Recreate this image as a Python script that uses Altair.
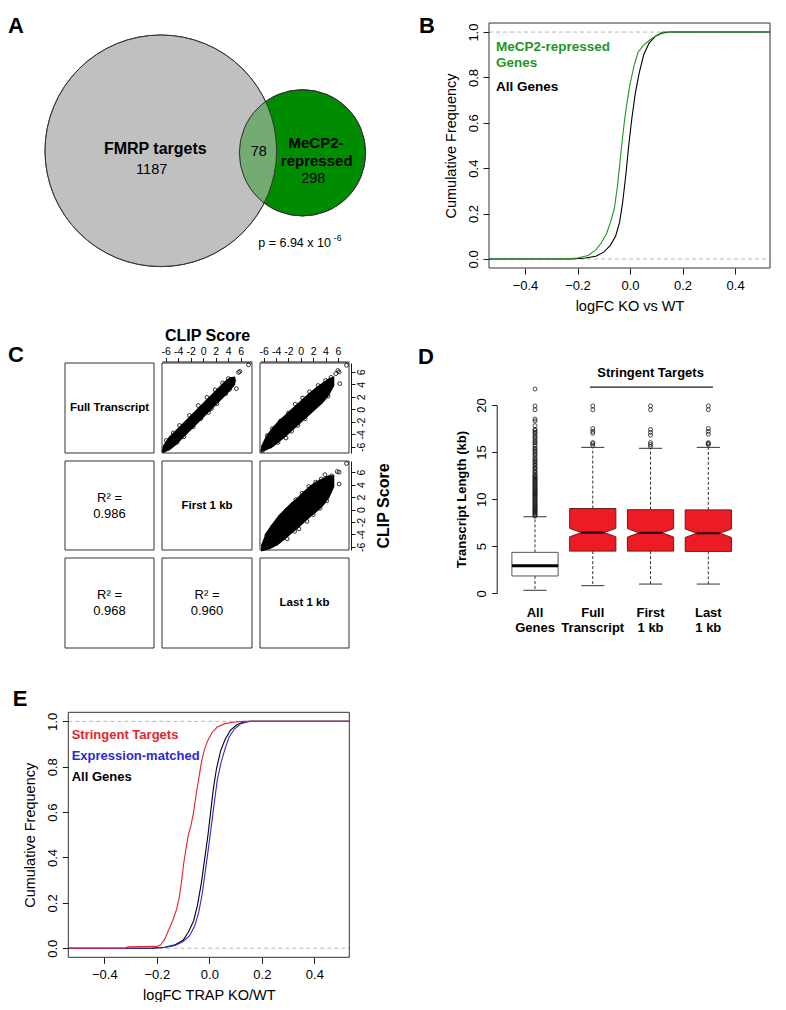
import altair as alt
import pandas as pd

# ---------------- canvas ----------------
W, H = 770, 994          # whole drawing area (page is 786 x 1010 with 8px margin)
M = 8
FONT = "Liberation Sans"
INK = "#1a1a1a"
FRAME = "#333333"
GREEN_LINE = "#1f951f"
GREEN_VENN = "#008c00"
GRAY_VENN = "#c0c0c0"
RED = "#e3262b"
BLUE = "#2a2ad0"
BOX_RED = "#ed1c24"

# ================= DATA =================
# --- A: Venn ---
venn_sets = ["FMRP targets", "MeCP2-repressed"]
venn_only = [1187, 298]
venn_shared = 78
venn_p = "p = 6.94 x 10"
venn_p_exp = "-6"

# --- B: ECDF logFC KO vs WT ---
b_all_x = [-0.537, -0.22, -0.17, -0.13, -0.10, -0.075, -0.055, -0.04, -0.028, -0.016,
           -0.005, 0.007, 0.02, 0.035, 0.052, 0.072, 0.095, 0.12, 0.15, 0.533]
b_all_f = [0, 0, 0.004, 0.012, 0.03, 0.06, 0.10, 0.16, 0.25, 0.37,
           0.50, 0.62, 0.73, 0.82, 0.90, 0.95, 0.98, 0.995, 1.0, 1.0]
b_mecp2_x = [-0.537, -0.25, -0.20, -0.16, -0.13, -0.11, -0.09, -0.075, -0.06, -0.048, -0.038,
             -0.03, -0.02, -0.01, 0.0, 0.015, 0.03, 0.05, 0.075, 0.10, 0.125, 0.533]
b_mecp2_f = [0, 0, 0.004, 0.015, 0.04, 0.07, 0.11, 0.16, 0.22, 0.32, 0.43,
             0.52, 0.62, 0.70, 0.77, 0.85, 0.91, 0.94, 0.965, 0.985, 1.0, 1.0]

# --- C: CLIP score pairs (dense band edges + visible stray points) ---
c12_band_x = [-6.4, -5.5, -4.5, -3.5, -2.5, -1.5, -0.5, 0.5, 1.5, 2.5, 3.5, 4.3, 5.0]
c12_band_lo = [-6.8, -6.5, -5.7, -4.7, -3.7, -2.7, -1.7, -0.7, 0.3, 1.3, 2.3, 3.1, 4.0]
c12_band_hi = [-6.0, -4.6, -3.6, -2.6, -1.6, -0.6, 0.4, 1.4, 2.4, 3.4, 4.4, 5.0, 5.1]
c12_pts_x = [7.25, 5.65, 5.85, 5.3, 4.9, 4.6, 4.2, 3.6, 2.2, 1.3, 0.85, -0.4, -1.6, -3.1, -4.2,
             -5.3, -6.3, -5.9, -4.8, -3.8, -2.2, -0.8, 0.6, 1.9, 3.1, 4.0]
c12_pts_y = [7.1, 5.9, 6.05, 3.3, 4.6, 4.75, 3.2, 2.5, 0.9, 0.1, -0.5, -1.5, -2.8, -4.4, -5.3,
             -5.95, -6.6, -5.0, -3.8, -2.6, -1.0, 0.6, 1.9, 3.1, 4.2, 4.9]

c13_band_x = [-6.3, -5.5, -4.5, -3.5, -2.5, -1.5, -0.5, 0.5, 1.5, 2.5, 3.5, 4.5, 5.3]
c13_band_lo = [-6.7, -6.4, -5.9, -5.1, -4.3, -3.4, -2.5, -1.6, -0.7, 0.2, 1.1, 2.3, 3.8]
c13_band_hi = [-5.9, -4.3, -3.0, -1.9, -1.0, -0.1, 0.8, 1.7, 2.6, 3.4, 4.1, 4.8, 5.1]
c13_pts_x = [7.4, 6.2, 6.0, 5.67, 6.3, 4.5, 4.4, 3.5, 2.3, 0.7, -0.5, -1.5, -2.4, -3.7, -4.9,
             -6.2, -5.4, -4.6, -3.3, -2.0, -0.9, 0.3, 1.4, 2.8, 4.0, 4.9]
c13_pts_y = [7.04, 5.97, 6.2, 5.7, 4.1, 3.04, 2.1, 1.7, 0.4, -1.5, -2.6, -3.5, -4.6, -5.3, -5.9,
             -6.6, -4.2, -3.1, -1.9, -0.6, 0.8, 1.8, 2.8, 3.8, 4.6, 5.1]

c23_band_x = [-6.3, -5.5, -4.5, -3.5, -2.5, -1.5, -0.5, 0.5, 1.5, 2.5, 3.5, 4.5, 5.3]
c23_band_lo = [-6.6, -6.4, -6.0, -5.4, -4.6, -3.7, -2.9, -2.0, -1.1, -0.3, 0.6, 1.9, 3.7]
c23_band_hi = [-5.7, -3.7, -2.3, -1.0, 0.0, 1.0, 1.8, 2.8, 3.7, 4.4, 4.9, 5.4, 5.4]
c23_pts_x = [7.4, 6.2, 5.9, 3.9, 4.7, 6.2, 1.3, -1.9, -2.3, -3.2, 4.3, 4.2, -0.3, -2.2, -4.0,
             -5.1, 3.1, 2.0, 1.0, -1.0, -4.6, -5.5, 0.2, -0.8, 2.4, 3.3, 5.0]
c23_pts_y = [7.4, 6.0, 6.1, 5.6, 4.6, 4.1, 3.7, 0.1, -0.1, -1.5, 2.8, 1.4, -3.1, -4.7, -5.5,
             -6.0, 0.2, -0.8, -1.9, -3.5, -2.8, -4.1, 2.6, 1.6, 4.4, 4.9, 5.4]

c_r2 = ["0.986", "0.968", "0.960"]

# --- D: transcript length boxplots ---
d_labels = ["All\nGenes", "Full\nTranscript", "First\n1 kb", "Last\n1 kb"]
d_wlo = [0.32, 0.81, 0.98, 0.98]
d_q1 = [1.84, 4.48, 4.48, 4.45]
d_med = [2.93, 6.45, 6.42, 6.38]
d_q3 = [4.35, 9.0, 8.88, 8.86]
d_whi = [8.13, 15.5, 15.4, 15.5]
d_notch_lo = [None, 6.0, 5.97, 5.93]
d_notch_hi = [None, 6.9, 6.87, 6.83]
d_out_all = [8.2, 8.3, 8.4, 8.5, 8.6, 8.7, 8.8, 8.9, 9.0, 9.1, 9.2, 9.3, 9.4, 9.5, 9.6, 9.7, 9.8,
             9.9, 10.0, 10.1, 10.2, 10.3, 10.4, 10.5, 10.6, 10.7, 10.8, 10.9, 11.0, 11.1, 11.2,
             11.3, 11.4, 11.5, 11.6, 11.7, 11.8, 11.9, 12.0, 12.1, 12.2, 12.3, 12.4, 12.5, 12.6,
             12.8, 12.9, 13.0, 13.2, 13.3, 13.4, 13.6, 13.7, 13.9, 14.0, 14.2, 14.3, 14.5, 14.7,
             14.8, 15.0, 15.1, 15.3, 15.4, 15.6, 15.8, 16.0, 16.1, 16.3, 16.5, 16.6, 16.8, 17.0,
             17.1, 17.3, 17.4, 17.8, 18.3, 18.5, 19.5, 19.9, 21.7]
d_out_full = [15.7, 15.9, 16.0, 17.0, 17.2, 17.5, 19.5, 19.9]
d_out_first = [15.6, 15.8, 16.0, 16.8, 17.1, 17.4, 19.5, 19.9]
d_out_last = [15.8, 15.9, 16.0, 16.9, 17.2, 17.5, 19.5, 19.9]

# --- E: ECDF logFC TRAP KO/WT ---
e_red_x = [-0.537, -0.32, -0.31, -0.2, -0.185, -0.17, -0.155, -0.14, -0.125, -0.115, -0.105,
           -0.098, -0.09, -0.08, -0.07, -0.06, -0.05, -0.04, -0.03, -0.02, -0.008, 0.01, 0.03,
           0.06, 0.09, 0.13, 0.533]
e_red_f = [0, 0, 0.006, 0.008, 0.015, 0.04, 0.08, 0.12, 0.17, 0.22, 0.30,
           0.37, 0.43, 0.50, 0.54, 0.60, 0.68, 0.75, 0.82, 0.87, 0.91, 0.95, 0.975,
           0.99, 0.996, 1.0, 1.0]
e_all_x = [-0.537, -0.22, -0.17, -0.13, -0.1, -0.08, -0.06, -0.045, -0.03, -0.017, -0.005,
           0.005, 0.015, 0.027, 0.043, 0.06, 0.08, 0.105, 0.13, 0.16, 0.533]
e_all_f = [0, 0, 0.004, 0.015, 0.035, 0.07, 0.12, 0.19, 0.29, 0.40, 0.50,
           0.60, 0.70, 0.79, 0.87, 0.92, 0.96, 0.985, 0.997, 1.0, 1.0]
e_blue_x = [-0.537, -0.22, -0.17, -0.13, -0.1, -0.075, -0.055, -0.04, -0.027, -0.013, 0.0,
            0.01, 0.02, 0.03, 0.045, 0.06, 0.075, 0.095, 0.12, 0.15, 0.533]
e_blue_f = [0, 0, 0.003, 0.012, 0.03, 0.055, 0.10, 0.16, 0.24, 0.36, 0.47,
            0.56, 0.65, 0.74, 0.82, 0.88, 0.93, 0.965, 0.99, 1.0, 1.0]

# ================= HELPERS =================
def lin(domain, rng):
    return alt.Scale(domain=domain, range=rng, nice=False, zero=False)

PXS = lin([0, 786], [-M, 786 - M])
PYS = lin([0, 1010], [-M, 1010 - M])


def PX(f):
    return alt.X(f, type="quantitative", scale=PXS, axis=None)


def PY(f):
    return alt.Y(f, type="quantitative", scale=PYS, axis=None)


def text_layer(rows, **kw):
    df = pd.DataFrame(rows, columns=["x", "y", "t"])
    base = dict(font=FONT, baseline="middle", align="center", color="black", fontSize=13)
    base.update(kw)
    return alt.Chart(df).mark_text(**base).encode(x=PX("x"), y=PY("y"), text="t")


# ================= PAGE LAYER (Venn, frames, annotations) =================
venn_n = [venn_only[0] + venn_shared, venn_only[1] + venn_shared]
R_BIG = 115.8
venn_df = pd.DataFrame({"set": venn_sets, "n": venn_n, "cx": [160.8, 302.5], "cy": [150.8, 152.8]})
SIZE = alt.Scale(type="linear", domain=[0, venn_n[0]], range=[0, (2 * R_BIG) ** 2], zero=True, nice=False)


def venn_circle(idx, **kw):
    return alt.Chart(venn_df.iloc[[idx]]).mark_point(shape="circle", opacity=1, **kw).encode(
        x=PX("cx"), y=PY("cy"),
        size=alt.Size("n", type="quantitative", scale=SIZE, legend=None))


venn_layers = [
    venn_circle(0, filled=True, fill=GRAY_VENN, color=GRAY_VENN, stroke=FRAME, strokeWidth=1),
    venn_circle(1, filled=True, fill=GREEN_VENN, color=GREEN_VENN, stroke=FRAME, strokeWidth=1),
    venn_circle(0, filled=True, fill=GRAY_VENN, color=GRAY_VENN, fillOpacity=0.6, stroke=FRAME, strokeWidth=1),
    venn_circle(1, filled=False, color=FRAME, strokeWidth=1),
]

C_COLS = [(65, 154), (162, 252), (260, 349)]
C_ROWS = [(363, 453), (461, 550), (558, 648)]
frames = pd.DataFrame([{"x0": c[0], "x1": c[1], "y0": r[0], "y1": r[1]} for r in C_ROWS for c in C_COLS])
frame_layer = alt.Chart(frames).mark_rect(filled=False, stroke=FRAME, strokeWidth=1).encode(
    x=PX("x0"), x2="x1", y=PY("y0"), y2="y1")

def ccx(i):
    return (C_COLS[i][0] + C_COLS[i][1]) / 2


def ccy(j):
    return (C_ROWS[j][0] + C_ROWS[j][1]) / 2


page = alt.layer(
    *venn_layers,
    frame_layer,
    text_layer([(16, 26, "A"), (427, 26, "B"), (16, 355, "C"), (426, 357, "D"), (20, 699, "E")],
               fontSize=22, fontWeight="bold"),
    text_layer([(155.3, 149, venn_sets[0])], fontSize=16, fontWeight="bold"),
    text_layer([(316, 142.7, "MeCP2-"), (316.7, 161, "repressed")], fontSize=15, fontWeight="bold"),
    text_layer([(151.7, 170, str(venn_only[0])), (258.7, 152.3, str(venn_shared)),
                (313.3, 179, str(venn_only[1]))], fontSize=14.5),
    text_layer([(258.3, 243.3, venn_p)], fontSize=12.5, align="left"),
    text_layer([(333.8, 237.5, venn_p_exp)], fontSize=8.5, align="left"),
    # B legend
    text_layer([(496, 46.7, "MeCP2-repressed"), (496, 63.3, "Genes")], fontSize=13.5,
               fontWeight="bold", align="left", color=GREEN_LINE),
    text_layer([(496, 86.7, "All Genes")], fontSize=13.5, fontWeight="bold", align="left"),
    # C diagonal labels and R^2
    text_layer([(ccx(0), ccy(0), "Full Transcript"), (ccx(1), ccy(1), "First 1 kb"),
                (ccx(2), ccy(2), "Last 1 kb")], fontSize=11.5, fontWeight="bold"),
    text_layer([(ccx(0), ccy(1) - 8, "R\u00b2 ="), (ccx(0), ccy(1) + 8, c_r2[0]),
                (ccx(0), ccy(2) - 8, "R\u00b2 ="), (ccx(0), ccy(2) + 8, c_r2[1]),
                (ccx(1), ccy(2) - 8, "R\u00b2 ="), (ccx(1), ccy(2) + 8, c_r2[2])], fontSize=13),
    # E legend
    text_layer([(71.7, 735, "Stringent Targets")], fontSize=13, fontWeight="bold", align="left", color=RED),
    text_layer([(71.7, 755.7, "Expression-matched")], fontSize=13, fontWeight="bold", align="left", color=BLUE),
    text_layer([(71.7, 776.7, "All Genes")], fontSize=13, fontWeight="bold", align="left"),
)


# ================= ECDF PANELS (B, E) =================
def ecdf_panel(series, x_rng, y_rng, xtitle):
    xd, yd = [-0.537, 0.533], [-0.04, 1.04]
    xs = lin(xd, [x_rng[0] - M, x_rng[1] - M])
    ys = lin(yd, [y_rng[0] - M, y_rng[1] - M])
    xa = alt.Axis(orient="bottom", offset=(y_rng[0] - M) - H, values=[-0.4, -0.2, 0, 0.2, 0.4],
                  format=".1f", tickSize=6, domain=False, grid=False, labelFontSize=13,
                  labelPadding=5, labelFlush=False, labelOverlap=False, title=xtitle,
                  titleFontSize=14.5, titleFontWeight="normal", titlePadding=7)
    ya = alt.Axis(orient="left", offset=-(x_rng[0] - M), values=[0, 0.2, 0.4, 0.6, 0.8, 1.0],
                  format=".1f", tickSize=6, domain=False, grid=False, labelAngle=270,
                  labelAlign="center", labelBaseline="bottom", labelFontSize=13, labelPadding=3,
                  labelFlush=False, labelOverlap=False, title="Cumulative Frequency",
                  titleFontSize=14.5, titleFontWeight="normal", titlePadding=9)

    def X(f):
        return alt.X(f, type="quantitative", scale=xs, axis=xa)

    def Y(f):
        return alt.Y(f, type="quantitative", scale=ys, axis=ya)

    frame_df = pd.DataFrame({"x0": [xd[0]], "x1": [xd[1]], "y0": [yd[0]], "y1": [yd[1]]})
    guide_df = pd.DataFrame({"x0": [xd[0], xd[0]], "x1": [xd[1], xd[1]], "f": [0.0, 1.0]})
    layers = [alt.Chart(guide_df).mark_rule(color="#b8b8b8", strokeDash=[4, 3], strokeWidth=1).encode(
        x=X("x0"), x2="x1", y=Y("f"))]
    for sx, sf, col in series:
        df = pd.DataFrame({"x": sx, "f": sf, "k": list(range(len(sx)))})
        layers.append(alt.Chart(df).mark_line(color=col, strokeWidth=1.1).encode(
            x=X("x"), y=Y("f"), order=alt.Order("k", type="quantitative")))
    layers.append(alt.Chart(frame_df).mark_rect(filled=False, stroke=FRAME, strokeWidth=1).encode(
        x=X("x0"), x2="x1", y=Y("y0"), y2="y1"))
    return alt.layer(*layers)


panel_b = ecdf_panel([(b_all_x, b_all_f, "black"), (b_mecp2_x, b_mecp2_f, GREEN_LINE)],
                     (489, 770), (268, 23), "logFC KO vs WT")
panel_e = ecdf_panel([(e_all_x, e_all_f, "black"), (e_blue_x, e_blue_f, BLUE), (e_red_x, e_red_f, RED)],
                     (68.3, 349.3), (957.3, 712.3), "logFC TRAP KO/WT")

# ================= C SCATTER PANELS =================
C_XDOM = [-6.6, 7.8]
C_YDOM = {0: [-7.0, 7.4], 1: [-6.5, 7.8]}
TICKS6 = [-6, -4, -2, 0, 2, 4, 6]
HYPHEN_LABEL = "datum.value < 0 ? '-' + abs(datum.value) : '' + datum.value"


def top_axis(title):
    kw = dict(orient="top", offset=-(361.5 - M), values=TICKS6, labelExpr=HYPHEN_LABEL, tickSize=4,
              domain=True, grid=False, labelFontSize=10.5, labelPadding=1.5, labelFlush=False,
              labelOverlap=False)
    if title:
        kw.update(title=title, titleFontSize=16, titleFontWeight="bold", titlePadding=3)
    else:
        kw.update(title=None)
    return alt.Axis(**kw)


def right_axis(title):
    kw = dict(orient="right", offset=(351 - M) - W, values=TICKS6, labelExpr=HYPHEN_LABEL, tickSize=4,
              domain=True, grid=False, labelAngle=270, labelAlign="center", labelBaseline="top",
              labelFontSize=10.5, labelPadding=1.5, labelFlush=False, labelOverlap=False)
    if title:
        kw.update(title=title, titleFontSize=16, titleFontWeight="bold", titleAngle=270,
                  titleBaseline="top", titlePadding=8)
    else:
        kw.update(title=None)
    return alt.Axis(**kw)


def scatter_panel(bx, blo, bhi, px, py, col, row, xaxis, yaxis):
    xs = lin(C_XDOM, [C_COLS[col][0] - M, C_COLS[col][1] - M])
    ys = lin(C_YDOM[row], [C_ROWS[row][1] - M, C_ROWS[row][0] - M])

    def X(f):
        return alt.X(f, type="quantitative", scale=xs, axis=xaxis)

    def Y(f):
        return alt.Y(f, type="quantitative", scale=ys, axis=yaxis, stack=None)

    band = pd.DataFrame({"x": bx, "lo": blo, "hi": bhi})
    pts = pd.DataFrame({"x": px, "y": py})
    return alt.layer(
        alt.Chart(band).mark_area(color="black", opacity=1, interpolate="linear",
                                  stroke="black", strokeWidth=1.5).encode(
            x=X("x"), y=Y("lo"), y2="hi"),
        alt.Chart(pts).mark_point(shape="circle", filled=False, size=15, color="black",
                                  strokeWidth=0.8, opacity=1).encode(x=X("x"), y=Y("y")),
    )


c12 = scatter_panel(c12_band_x, c12_band_lo, c12_band_hi, c12_pts_x, c12_pts_y, 1, 0,
                    top_axis("CLIP Score"), None)
c13 = scatter_panel(c13_band_x, c13_band_lo, c13_band_hi, c13_pts_x, c13_pts_y, 2, 0,
                    top_axis(None), right_axis(None))
c23 = scatter_panel(c23_band_x, c23_band_lo, c23_band_hi, c23_pts_x, c23_pts_y, 2, 1,
                    None, right_axis("CLIP Score"))

# ================= D BOXPLOTS =================
BOXW, CAPW, NOTCHW = 0.4, 0.2, 0.2
LABEL_Y = -1.45
dxs = lin([1, 4], [535 - M, 708.3 - M])
dys = lin([0, 20], [593.3 - M, 405 - M])
d_ya = alt.Axis(orient="left", offset=-(496.7 - M), values=[0, 5, 10, 15, 20], tickSize=5, domain=True,
                grid=False, labelAngle=270, labelAlign="center", labelBaseline="bottom", labelFontSize=13,
                labelPadding=3, labelFlush=False, labelOverlap=False, title="Transcript Length (kb)",
                titleFontSize=13, titleFontWeight="bold", titlePadding=7)


def DX(f):
    return alt.X(f, type="quantitative", scale=dxs, axis=None, stack=None)


def DY(f):
    return alt.Y(f, type="quantitative", scale=dys, axis=d_ya, stack=None)


pos = [1, 2, 3, 4]
stats = pd.DataFrame({"i": pos, "wlo": d_wlo, "q1": d_q1, "med": d_med, "q3": d_q3, "whi": d_whi,
                      "lab": d_labels})
stats["c0"] = stats["i"] - CAPW
stats["c1"] = stats["i"] + CAPW
stats["b0"] = stats["i"] - BOXW
stats["b1"] = stats["i"] + BOXW
stats["m0"] = stats["i"] - [BOXW, NOTCHW, NOTCHW, NOTCHW]
stats["m1"] = stats["i"] + [BOXW, NOTCHW, NOTCHW, NOTCHW]
stats["ly"] = LABEL_Y

notch_rows = []
for k in range(1, 4):
    i = pos[k]
    for yv, hw in [(d_q1[k], BOXW), (d_notch_lo[k], BOXW), (d_med[k], NOTCHW),
                   (d_notch_hi[k], BOXW), (d_q3[k], BOXW)]:
        notch_rows.append({"g": k, "y": yv, "xl": i - hw, "xr": i + hw})
notch_df = pd.DataFrame(notch_rows)

out_rows = []
for k, vals in enumerate([d_out_all, d_out_full, d_out_first, d_out_last]):
    for v in vals:
        out_rows.append({"i": pos[k], "v": v})
out_df = pd.DataFrame(out_rows)

bracket = pd.DataFrame({"x0": [1.95], "x1": [4.08], "y": [21.9], "tx": [3.0], "ty": [23.4],
                        "t": ["Stringent Targets"]})

all_stats = stats.iloc[[0]]
red_stats = stats.iloc[1:]

panel_d = alt.layer(
    alt.Chart(stats).mark_rule(color=FRAME, strokeDash=[3, 2], strokeWidth=1).encode(
        x=DX("i"), y=DY("q3"), y2="whi"),
    alt.Chart(stats).mark_rule(color=FRAME, strokeDash=[3, 2], strokeWidth=1).encode(
        x=DX("i"), y=DY("q1"), y2="wlo"),
    alt.Chart(stats).mark_rule(color=FRAME, strokeWidth=1).encode(x=DX("c0"), x2="c1", y=DY("whi")),
    alt.Chart(stats).mark_rule(color=FRAME, strokeWidth=1).encode(x=DX("c0"), x2="c1", y=DY("wlo")),
    alt.Chart(all_stats).mark_rect(fill="white", stroke="#555555", strokeWidth=1).encode(
        x=DX("b0"), x2="b1", y=DY("q1"), y2="q3"),
    alt.Chart(notch_df).mark_area(orient="horizontal", fill=BOX_RED, color=BOX_RED, stroke="#6e1a1a",
                                  strokeWidth=1, opacity=1).encode(
        y=DY("y"), x=DX("xl"), x2="xr", detail="g:N"),
    alt.Chart(all_stats).mark_rule(color="black", strokeWidth=3).encode(x=DX("m0"), x2="m1", y=DY("med")),
    alt.Chart(red_stats).mark_rule(color="#2a0505", strokeWidth=2.2).encode(x=DX("m0"), x2="m1", y=DY("med")),
    alt.Chart(out_df).mark_point(shape="circle", filled=False, size=16, color=INK, strokeWidth=0.8,
                                 opacity=1).encode(x=DX("i"), y=DY("v")),
    alt.Chart(stats).mark_text(font=FONT, fontSize=13, fontWeight="bold", lineBreak="\n", baseline="top",
                               lineHeight=15.5, color="black").encode(x=DX("i"), y=DY("ly"), text="lab"),
    alt.Chart(bracket).mark_rule(color=INK, strokeWidth=1.3).encode(x=DX("x0"), x2="x1", y=DY("y")),
    alt.Chart(bracket).mark_text(font=FONT, fontSize=13, fontWeight="bold", color="black").encode(
        x=DX("tx"), y=DY("ty"), text="t"),
)

# ================= ASSEMBLE =================
chart = alt.layer(page, panel_b, panel_e, c12, c13, c23, panel_d).resolve_scale(
    x="independent", y="independent"
).properties(
    width=W, height=H, padding=0, autosize=alt.AutoSizeParams(type="none")
).configure_view(stroke=None).configure_axis(
    labelFont=FONT, titleFont=FONT, labelColor="black", titleColor="black",
    tickColor=INK, domainColor=INK, tickWidth=1, domainWidth=1
).configure_text(font=FONT)

chart.save("out.html", embed_options={"renderer": "svg", "actions": False})
